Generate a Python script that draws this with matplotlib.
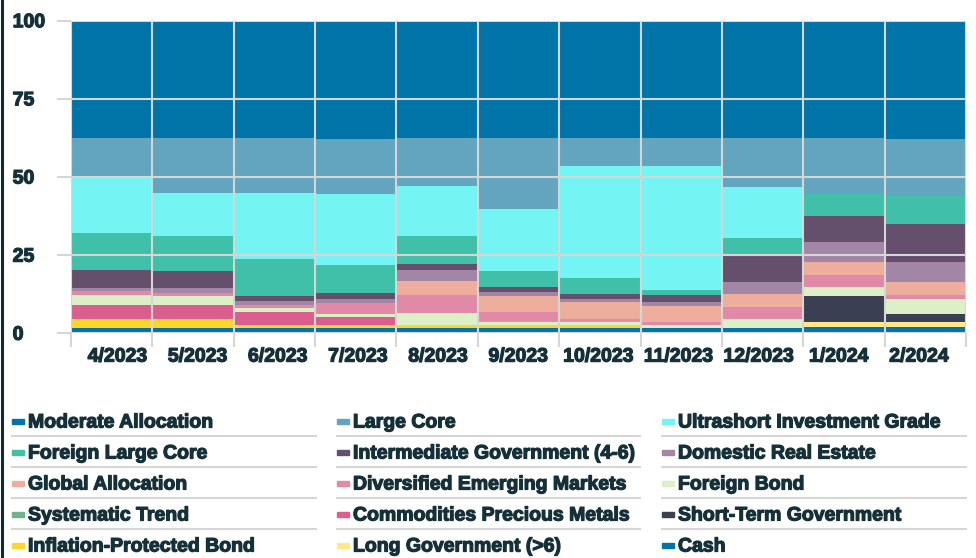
import matplotlib
matplotlib.use("Agg")
import matplotlib.pyplot as plt
import matplotlib.patheffects as pe
from matplotlib.patches import Rectangle
from matplotlib.lines import Line2D
import numpy as np

plt.rcParams['font.family'] = ['Liberation Sans', 'DejaVu Sans']
plt.rcParams['font.weight'] = 'bold'

TEXT = '#16303a'
GRID = '#d6d6d6'
# thicken the bold face a little
HEAVY = [pe.withStroke(linewidth=0.9, foreground=TEXT)]

months = ['4/2023', '5/2023', '6/2023', '7/2023', '8/2023', '9/2023',
          '10/2023', '11/2023', '12/2023', '1/2024', '2/2024']

# allocation (%) per category, listed top of stack first
moderate_alloc = [37.6, 37.6, 37.6, 37.6, 37.6, 37.6, 37.6, 37.6, 37.6, 37.6, 37.6]
large_core = [12.6, 17.6, 17.6, 17.6, 15.2, 22.6, 8.8, 8.8, 15.5, 17.9, 17.9]
ultrashort = [17.7, 13.7, 21.1, 22.9, 16.1, 19.9, 35.8, 39.8, 16.5, 0.0, 0.0]
foreign_large_core = [11.9, 11.4, 11.7, 9.0, 9.0, 5.0, 5.2, 1.6, 5.7, 6.9, 9.3]
intermediate_gov = [5.8, 5.3, 1.6, 1.8, 1.8, 1.6, 1.7, 2.3, 8.4, 8.5, 12.3]
domestic_re = [1.1, 1.6, 1.4, 1.2, 3.6, 1.3, 1.0, 1.1, 3.7, 6.2, 6.4]
global_alloc = [0.0, 0.0, 0.0, 0.0, 4.4, 5.1, 5.3, 5.1, 4.3, 4.3, 4.3]
div_em = [1.3, 1.1, 1.0, 3.6, 5.9, 3.2, 0.9, 1.0, 3.7, 3.7, 1.2]
foreign_bond = [3.0, 2.9, 1.1, 0.9, 3.7, 1.0, 1.0, 0.9, 2.8, 3.0, 4.8]
systematic_trend = [0.0, 0.0, 0.0, 0.0, 0.0, 0.0, 0.0, 0.0, 0.0, 0.0, 0.0]
commodities_pm = [4.5, 4.3, 4.2, 2.6, 0.0, 0.0, 0.0, 0.0, 0.0, 0.0, 0.0]
short_term_gov = [0.0, 0.0, 0.0, 0.0, 0.0, 0.0, 0.0, 0.0, 0.0, 8.2, 2.4]
inflation_protected = [3.0, 3.0, 0.9, 0.9, 0.9, 0.9, 0.9, 0.0, 0.0, 0.0, 0.0]
long_gov = [0.0, 0.0, 0.0, 0.0, 0.0, 0.0, 0.0, 0.0, 0.0, 1.8, 1.8]
cash = [1.6, 1.6, 1.8, 1.8, 1.8, 1.8, 1.8, 1.8, 1.8, 1.9, 1.9]

series = [
    ('Moderate Allocation', moderate_alloc, '#0073a7'),
    ('Large Core', large_core, '#63a4bf'),
    ('Ultrashort Investment Grade', ultrashort, '#74f4f2'),
    ('Foreign Large Core', foreign_large_core, '#41c0a9'),
    ('Intermediate Government (4-6)', intermediate_gov, '#644f6d'),
    ('Domestic Real Estate', domestic_re, '#a385a5'),
    ('Global Allocation', global_alloc, '#edae9e'),
    ('Diversified Emerging Markets', div_em, '#e08aa8'),
    ('Foreign Bond', foreign_bond, '#dcf0c8'),
    ('Systematic Trend', systematic_trend, '#6db38c'),
    ('Commodities Precious Metals', commodities_pm, '#da5f8e'),
    ('Short-Term Government', short_term_gov, '#3b3f52'),
    ('Inflation-Protected Bond', inflation_protected, '#fcd62e'),
    ('Long Government (>6)', long_gov, '#fde98a'),
    ('Cash', cash, '#0073a7'),
]

fig = plt.figure(figsize=(9.76, 5.58), dpi=100)
W, H = 976, 558
ax = fig.add_axes([71 / W, 1 - 333.3 / H, (966 - 71) / W, (333.3 - 20.7) / H])

x = np.arange(len(months))
bottom = np.zeros(len(months))
for name, vals, color in reversed(series):
    vals = np.array(vals)
    ax.bar(x, vals, width=1.0, bottom=bottom, color=color, linewidth=0, zorder=1)
    bottom += vals

ax.set_xlim(-0.5, len(months) - 0.5)
ax.set_ylim(0, 100)
for s in ax.spines.values():
    s.set_visible(False)

# grid and ticks sit on top of the bars
ax.set_axisbelow(False)
ax.set_yticks([0, 25, 50, 75, 100])
ax.set_xticks(np.arange(-0.5, len(months), 1.0))
ax.set_xticklabels([])
ax.grid(True, color=GRID, linewidth=1.5)
ax.tick_params(axis='both', which='major', length=10, width=1.5, color=GRID)
ax.tick_params(axis='y', pad=32, labelsize=14, labelcolor=TEXT)
for lab in ax.get_yticklabels():
    lab.set_horizontalalignment('left')
    lab.set_path_effects(HEAVY)

ax.set_xticks(x * 0.985 + 0.07, minor=True)
ax.set_xticklabels(months, minor=True)
ax.tick_params(axis='x', which='minor', length=0, pad=11, labelsize=14, labelcolor=TEXT)
for lab in ax.get_xticklabels(minor=True):
    lab.set_path_effects(HEAVY)

# legend laid out as a 3-column grid with row separators
col_x = [12, 337, 662]
col_w = [304, 303, 304]
row_y = [421, 452, 483, 514, 545]
for i, (name, vals, color) in enumerate(series):
    r, c = divmod(i, 3)
    x0, y0 = col_x[c], row_y[r]
    fig.patches.append(Rectangle((x0 / W, 1 - (y0 + 2.5) / H), 12 / W, 5 / H,
                                 transform=fig.transFigure, color=color))
    fig.text((x0 + 16) / W, 1 - (y0 + 2) / H, name, fontsize=14, color=TEXT,
             va='center', ha='left', path_effects=HEAVY)
for r in range(4):
    ys = 1 - (row_y[r] + 14.5) / H
    for c in range(3):
        fig.lines.append(Line2D([col_x[c] / W, (col_x[c] + col_w[c]) / W], [ys, ys],
                                transform=fig.transFigure, color=GRID, linewidth=1.5))

# dark rule on the left edge
fig.lines.append(Line2D([1.5 / W, 1.5 / W], [0, 1], transform=fig.transFigure,
                        color='#102a33', linewidth=2.2))

fig.savefig('out.png', dpi=100)
